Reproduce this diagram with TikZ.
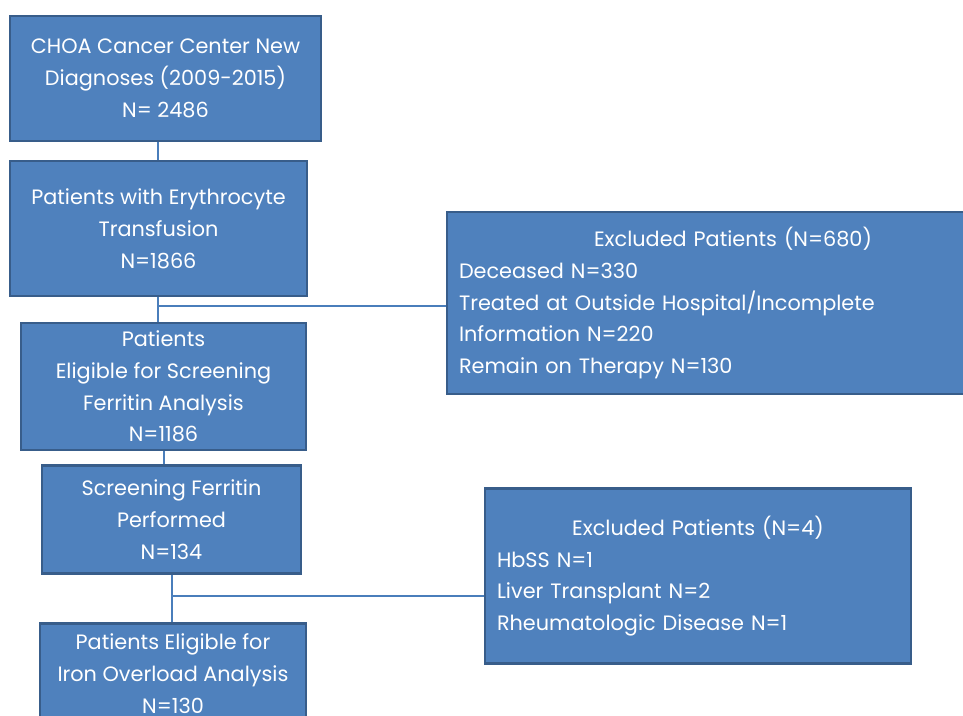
\documentclass[tikz,border=0pt]{standalone}
\usepackage{fontspec}
\setmainfont{Poppins}
\definecolor{boxfill}{RGB}{79,129,189}
\definecolor{boxline}{RGB}{56,93,138}
\definecolor{conn}{RGB}{74,126,187}
\begin{document}
\begin{tikzpicture}[x=1pt,y=-1pt,
  box/.style={draw=boxline, line width=2.2pt, fill=boxfill, text=white, inner sep=0pt,
    font=\fontsize{20.8}{31.8}\selectfont},
  conline/.style={draw=conn, line width=1.2pt}]
\useasboundingbox (0,0) rectangle (963,715);
\clip (0,0) rectangle (963,715);
% connector joints
\coordinate (j1) at (158,306);
\coordinate (j2) at (172,596);
% connectors (behind boxes)
\draw[conline] (158,139) -- (158,160);
\draw[conline] (158,295) -- (j1) -- (158,322);
\draw[conline] (j1) -- (447,306);
\draw[conline] (164,449) -- (164,464);
\draw[conline] (172,572) -- (j2) -- (172,622);
\draw[conline] (j2) -- (485,596);
% main boxes
\node[box, minimum width=311pt, minimum height=125pt, align=center] (b1) at (165.5,78.5)
  {CHOA Cancer Center New\\Diagnoses (2009-2015)\\N= 2486};
\node[box, minimum width=297pt, minimum height=135pt, align=center] (b2) at (158.5,228.5)
  {Patients with Erythrocyte\\Transfusion\\N=1866};
\node[box, minimum width=285pt, minimum height=127pt, align=center] (b3) at (163.5,386.5)
  {Patients\\Eligible for Screening\\Ferritin Analysis\\N=1186};
\node[box, minimum width=259pt, minimum height=108pt, align=center] (b4) at (171.5,519.5)
  {Screening Ferritin\\Performed\\N=134};
\node[box, minimum width=266pt, minimum height=100pt, align=center] (b5) at (173,673.5)
  {Patients Eligible for\\Iron Overload Analysis\\N=130};
% exclusion boxes
\node[box, minimum width=572pt, minimum height=182pt, text width=548pt, align=left] (e1) at (733,303)
  {\makebox[548pt]{Excluded Patients (N=680)}\\Deceased N=330\\Treated at Outside Hospital/Incomplete\\Information N=220\\Remain on Therapy N=130};
\node[box, minimum width=426pt, minimum height=175pt, text width=402pt, align=left] (e2) at (698,576)
  {\makebox[402pt]{Excluded Patients (N=4)}\\HbSS N=1\\Liver Transplant N=2\\Rheumatologic Disease N=1};
\end{tikzpicture}
\end{document}
